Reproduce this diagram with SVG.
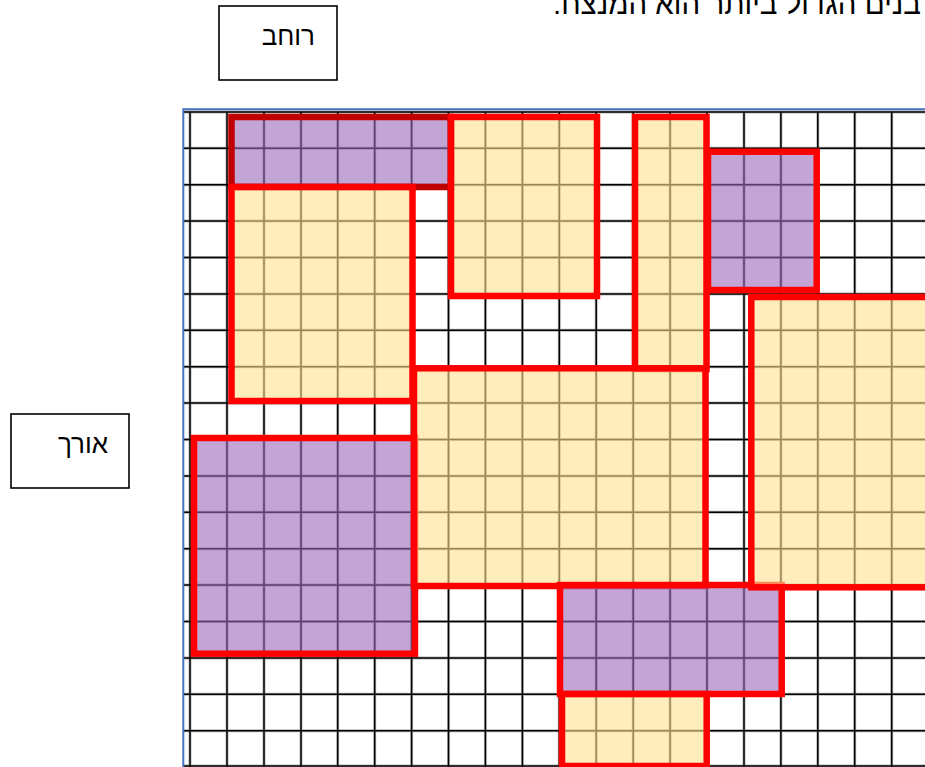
<svg xmlns="http://www.w3.org/2000/svg" width="925" height="767" viewBox="0 0 925 767">
<style>
.lbl{font-family:"Liberation Sans","DejaVu Sans","Noto Sans",sans-serif;font-size:26px;fill:#000}
.top{font-size:29.5px}
.box{fill:#fff;stroke:#000;stroke-width:1.6}
.gridH{fill:none;stroke:#b5b5b5;stroke-width:3}
.gridL{fill:none;stroke:#000;stroke-width:1.5}
.y{fill:#FFE18F;fill-opacity:0.6;stroke:#FF0000;stroke-width:6.5}
.p{fill:#9969B9;fill-opacity:0.6;stroke:#FF0000;stroke-width:6.5}
.pd{fill:#9969B9;fill-opacity:0.6;stroke:#C00000;stroke-width:6.5}
</style>
<defs>
<path id="grid" d="M183 112H925M183 148.3H925M183 184.7H925M183 221.1H925M183 257.5H925M183 293.9H925M183 330.3H925M183 366.7H925M183 403.1H925M183 439.5H925M183 475.9H925M183 512.3H925M183 548.7H925M183 585.1H925M183 621.5H925M183 657.9H925M183 694.3H925M183 730.7H925M183 766H925M190 112V767M227 112V767M264 112V767M301 112V767M337.7 112V767M374.7 112V767M411.6 112V767M448.5 112V767M485.4 112V767M522.4 112V767M559.3 112V767M596.2 112V767M633.2 112V767M670.1 112V767M707 112V767M744 112V767M780.9 112V767M817.8 112V767M854.7 112V767M891.7 112V767"/>
</defs>
<rect width="925" height="767" fill="#fff"/>
<text class="lbl top" x="553" y="13.5" direction="rtl" unicode-bidi="embed" text-anchor="end">בנים הגדול ביותר הוא המנצח.</text>
<g id="width-label">
<rect class="box" x="219" y="6" width="118" height="74"/>
<text class="lbl" x="315" y="45" text-anchor="end">רוחב</text>
</g>
<g id="length-label">
<rect class="box" x="11" y="414" width="118" height="74"/>
<text class="lbl" x="108" y="453" text-anchor="end">אורך</text>
</g>
<g id="grid-board">
<use href="#grid" class="gridH"/>
<use href="#grid" class="gridL"/>
<path d="M183.3 767V109.3H925" fill="none" stroke="#4472C4" stroke-width="2"/>
</g>
<g id="rect-a"><rect class="pd" x="231.5" y="117" width="219.5" height="70"/></g>
<g id="rect-b"><rect class="y" x="231.5" y="187" width="181" height="214"/></g>
<g id="rect-c"><rect class="y" x="451" y="117" width="146" height="179"/></g>
<g id="rect-d"><rect class="y" x="635" y="117" width="71.5" height="252"/></g>
<g id="rect-e"><rect class="p" x="708" y="151.7" width="108.7" height="138.3"/></g>
<g id="rect-h"><rect class="p" x="194" y="438" width="221" height="215.7"/></g>
<g id="rect-g"><rect class="y" x="414" y="368.3" width="291.5" height="217.7"/></g>
<g id="rect-i"><rect class="p" x="560" y="585" width="221.7" height="109"/></g>
<g id="rect-j"><rect class="y" x="562" y="694" width="144.7" height="72"/></g>
<g id="rect-f"><rect class="y" x="751.3" y="297" width="260" height="290.3"/></g>
<g id="connectors"></g>
</svg>
